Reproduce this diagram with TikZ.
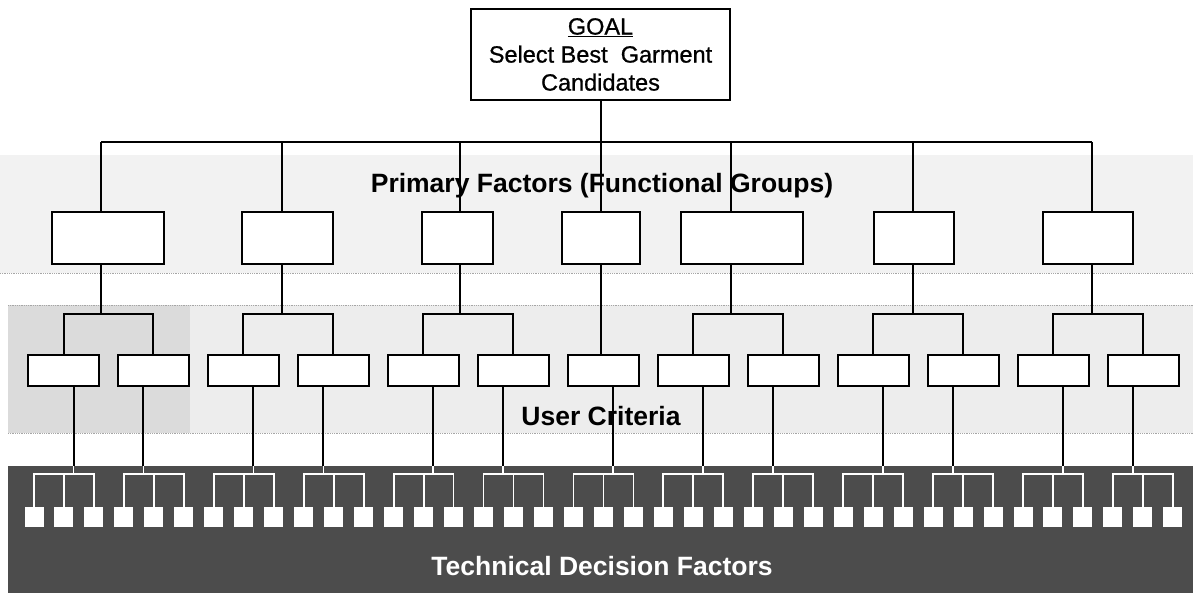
\documentclass[tikz,border=0pt]{standalone}
\usepackage{fontspec}
\setmainfont{Liberation Sans}
\newfontfamily\goalfont[FakeBold=0.8]{Liberation Sans}
\usetikzlibrary{calc}
\begin{document}
\begin{tikzpicture}[x=1pt,y=-1pt,
  box/.style={draw=black, line width=2pt, fill=white, inner sep=0pt},
  pbox/.style={box, minimum height=52pt},
  ubox/.style={box, minimum width=71pt, minimum height=31pt},
  conn/.style={draw=black, line width=2pt},
  wconn/.style={draw=white, line width=1.8pt},
  tsq/.style={fill=white, draw=none, minimum width=19pt, minimum height=20pt, inner sep=0pt},
  lbl/.style={font=\fontsize{26.5}{30}\selectfont\bfseries, anchor=base}]
\useasboundingbox (0,0) rectangle (1193,593);
% shaded bands
\fill[black!5] (0,155) rectangle (1193,273);
\fill[black!7] (8,305) rectangle (1193,433);
\fill[black!14] (8,305) rectangle (190,433);
\draw[black!35, densely dotted, line width=0.8pt] (0,273) -- (1193,273);
\draw[black!35, densely dotted, line width=0.8pt] (8,305) -- (1193,305);
\draw[black!35, densely dotted, line width=0.8pt] (8,433) -- (1193,433);
\fill[black!70] (8,466) rectangle (1193,593);

% labels
\node[lbl] (pf) at (602,193) {Primary Factors (Functional Groups)};
\node[lbl] (uc) at (601,425) {User Criteria};

% goal
\node[box, minimum width=259pt, minimum height=91pt, align=center,
      font=\goalfont\fontsize{23.5}{28}\selectfont] (goal) at (600.5,54.5)
      {\underline{GOAL}\\Select Best\ \ Garment\\Candidates};

% primary factor boxes
\node[pbox, minimum width=112pt] (p1) at (108,238.5) {};
\node[pbox, minimum width=91pt]  (p2) at (287.5,238.5) {};
\node[pbox, minimum width=71pt]  (p3) at (457.5,238.5) {};
\node[pbox, minimum width=78pt]  (p4) at (601,238.5) {};
\node[pbox, minimum width=122pt] (p5) at (742,238.5) {};
\node[pbox, minimum width=80pt]  (p6) at (914,238.5) {};
\node[pbox, minimum width=90pt]  (p7) at (1088,238.5) {};

\foreach \k/\x in {1/101,2/282,3/460,4/600.5,5/731,6/913,7/1092}
  \coordinate (d\k) at (\x,142);
\draw[conn] (goal.south) -- (goal.south |- d1);
\draw[conn] (d1) -- (d7);
\foreach \k in {1,...,7}
  \draw[conn] (d\k) -- (d\k |- p\k.north);

% user criteria boxes
\foreach \i in {1,...,13}
  \node[ubox] (u\i) at ({63.5+89.97*(\i-1)},370.5) {};

\foreach \k/\l/\r in {1/1/2,2/3/4,3/5/6,5/8/9,6/10/11,7/12/13} {
  \draw[conn] (p\k.south -| d\k) -- (d\k |- 0,314);
  \draw[conn] (u\l.north) |- (d\k |- 0,314) -| (u\r.north);
}
\draw[conn] (p4.south) -- (p4.south |- u7.north);

% technical decision factor squares
\foreach \j in {0,...,38}
  \node[tsq] (t\j) at ({34+29.97*\j},517) {};

\foreach \i/\o in {1/10,2/-10,3/10,4/-10,5/10,6/-10,7/10,8/10,9/-10,10/10,11/-10,12/10,13/-10} {
  \coordinate (ul\i) at ($(u\i.south)+(\o,0)$);
  \draw[conn] (ul\i) -- (ul\i |- 0,466);
  \draw[wconn] (ul\i |- 0,466) -- (ul\i |- 0,474);
  \pgfmathtruncatemacro\ta{3*(\i-1)}
  \pgfmathtruncatemacro\tb{3*(\i-1)+1}
  \pgfmathtruncatemacro\tc{3*(\i-1)+2}
  \draw[wconn] (t\ta.north) |- (t\tb.north |- 0,474) -| (t\tc.north);
  \draw[wconn] (t\tb.north) -- (t\tb.north |- 0,474);
}

\node[lbl, text=white] (tdf) at (602,575) {Technical Decision Factors};
\end{tikzpicture}
\end{document}
